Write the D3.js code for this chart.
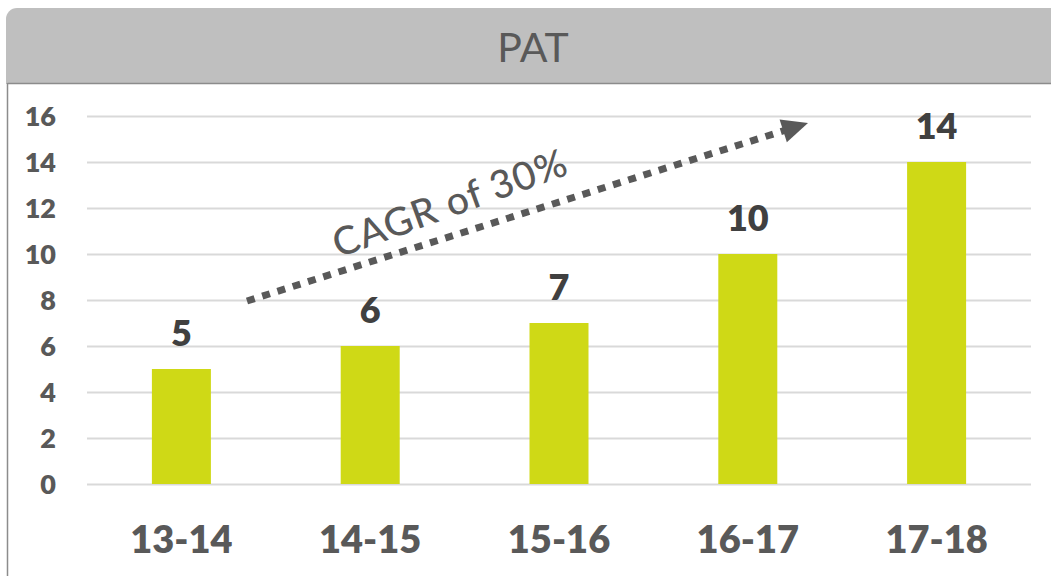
<!DOCTYPE html>
<html><head><meta charset="utf-8">
<script src="https://cdn.jsdelivr.net/npm/d3@7"></script>
<style>html,body{margin:0;padding:0;background:#fff;}svg{display:block;}</style>
</head><body>
<script>
const categories = ["13-14","14-15","15-16","16-17","17-18"];
const values = [5, 6, 7, 10, 14];
const yTicks = [0,2,4,6,8,10,12,14,16];
const title = "PAT";
const annotation = "CAGR of 30%";

const W = 1051, H = 576;
const svg = d3.select("body").append("svg").attr("width", W).attr("height", H);
const font = "Lato, 'Open Sans', sans-serif";

// header band
svg.append("rect").attr("x", 6).attr("y", 8).attr("width", 1060).attr("height", 76)
  .attr("rx", 11).attr("fill", "#bfbfbf");
svg.append("rect").attr("x", 6).attr("y", 60).attr("width", 1060).attr("height", 24).attr("fill", "#bfbfbf");
svg.append("rect").attr("x", 8).attr("y", 84).attr("width", 1060).attr("height", 500).attr("fill", "#fff");
svg.append("line").attr("x1", 7.5).attr("x2", 1060).attr("y1", 83.5).attr("y2", 83.5).attr("stroke", "#8c8c8c").attr("stroke-width", 1.5);
svg.append("line").attr("x1", 7.5).attr("x2", 7.5).attr("y1", 83).attr("y2", 580).attr("stroke", "#8c8c8c").attr("stroke-width", 1.5);
svg.append("text").attr("x", 533).attr("y", 62).attr("text-anchor", "middle")
  .attr("font-family", font).attr("font-size", 41).attr("fill", "#595959").text(title);

const m = {left: 87, right: 1031, top: 116, bottom: 484};
const x = d3.scaleBand().domain(categories).range([m.left, m.right]).paddingInner(0.6875).paddingOuter(0.34375);
const y = d3.scaleLinear().domain([0, 16]).range([m.bottom, m.top]);

// gridlines
const yAxis = d3.axisLeft(y).tickValues(yTicks).tickSize(-(m.right - m.left)).tickPadding(30);
const gy = svg.append("g").attr("transform", `translate(${m.left},0)`).call(yAxis);
gy.select(".domain").remove();
gy.selectAll(".tick line").attr("stroke", "#d9d9d9").attr("stroke-width", 2);
gy.selectAll(".tick text").attr("font-family", font).attr("font-weight", 800).attr("font-size", 27)
  .attr("fill", "#595959").attr("x", -31).attr("dy", "0.36em");

// bars
svg.selectAll("rect.bar").data(values).join("rect").attr("class", "bar")
  .attr("x", (d, i) => x(categories[i])).attr("width", x.bandwidth())
  .attr("y", d => y(d)).attr("height", d => y(0) - y(d)).attr("fill", "#cfd916");

// value labels
svg.selectAll("text.val").data(values).join("text").attr("class", "val")
  .attr("x", (d, i) => x(categories[i]) + x.bandwidth() / 2).attr("y", d => y(d) - 23)
  .attr("text-anchor", "middle").attr("font-family", font).attr("font-weight", 800)
  .attr("font-size", 36).attr("fill", "#404040").text(d => d);

// x axis labels
const xAxis = d3.axisBottom(x).tickSize(0).tickPadding(0);
const gx = svg.append("g").attr("transform", `translate(0,${m.bottom})`).call(xAxis);
gx.select(".domain").remove();
gx.selectAll(".tick text").attr("font-family", font).attr("font-weight", 800).attr("font-size", 38)
  .attr("fill", "#595959").attr("y", 69).attr("dy", 0);

// CAGR arrow
const x0 = 247, y0 = 301, x1 = 808, y1 = 123;
const ang = Math.atan2(y1 - y0, x1 - x0);
const headLen = 26, headW = 24;
const bx = x1 - headLen * Math.cos(ang), by = y1 - headLen * Math.sin(ang);
svg.append("line").attr("x1", x0).attr("y1", y0).attr("x2", bx + 2 * Math.cos(ang)).attr("y2", by + 2 * Math.sin(ang))
  .attr("stroke", "#595959").attr("stroke-width", 7).attr("stroke-dasharray", "8 8");
const px = -Math.sin(ang), py = Math.cos(ang);
svg.append("path").attr("d", `M${x1},${y1}L${bx + px * headW / 2},${by + py * headW / 2}L${bx - px * headW / 2},${by - py * headW / 2}Z`)
  .attr("fill", "#595959");
svg.append("text").attr("transform", `translate(450,203) rotate(-20)`).attr("text-anchor", "middle")
  .attr("dy", "0.35em").attr("font-family", font).attr("font-weight", 500).attr("font-size", 39).attr("fill", "#595959")
  .attr("letter-spacing", 1).text(annotation);
</script>
</body></html>
